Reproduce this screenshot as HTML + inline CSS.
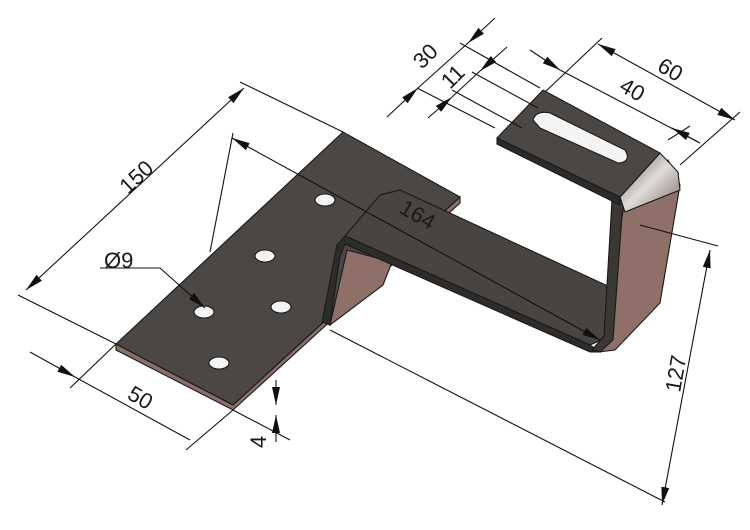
<!DOCTYPE html>
<html><head><meta charset="utf-8"><style>
html,body{margin:0;padding:0;background:#fff;}
svg{display:block;}
text{font-family:"Liberation Sans",sans-serif;font-size:22px;fill:#1a1a1a;}
</style></head><body>
<svg width="750" height="530" viewBox="0 0 750 530" xmlns="http://www.w3.org/2000/svg">
<defs>
<marker id="a" viewBox="0 0 18 8" refX="18" refY="4" markerWidth="18" markerHeight="8" orient="auto-start-reverse" markerUnits="userSpaceOnUse"><path d="M0,0 L18,4 L0,8 z" fill="#111"/></marker>
<linearGradient id="bend" x1="0" y1="0" x2="1" y2="1"><stop offset="0" stop-color="#5a5552"/><stop offset="0.5" stop-color="#e0ddda"/><stop offset="1" stop-color="#7a6a66"/></linearGradient>
</defs>
<g stroke="#1a1a1a" stroke-width="1.1">
<polygon points="116,344 116,350 233,410 460,203 460,197 233,405" fill="#8a6e68"/>
<polygon points="116,344 343,132 460,197 233,405" fill="#4a4745"/>
<g fill="#f4f4f4">
<ellipse cx="325" cy="200" rx="10" ry="6"/>
<ellipse cx="265" cy="256" rx="10" ry="6"/>
<ellipse cx="204" cy="312" rx="10" ry="6"/>
<ellipse cx="281" cy="307" rx="10" ry="6"/>
<ellipse cx="219" cy="363" rx="10" ry="6"/>
</g>
<polygon points="347,250 392,262 383,285 330,325" fill="#8f7068"/>
<polygon points="625,200 668,160 680,185 660,303 615,350 598,352" fill="#8f7068"/>
<polygon points="345,236 380,195 400,190 612,288 606,338 590,345" fill="#474442"/>
<polygon points="322,322 337,245 345,236 590,345 600,352 590,352 345,244 340,256 330,325" fill="#2e2c2b"/>
<polygon points="612,200 625,200 622,215 613,340 600,352 592,350 604,336" fill="#3a3735"/>
<polygon points="620,197 660,153 678,172 680,190 625,212" fill="url(#bend)"/>
<polygon points="497,138 497,144 620,205 620,197" fill="#2c2a29"/>
<polygon points="497,138 543,90 660,153 620,197" fill="#4a4745"/>
<path d="M533,120 Q536,110 550,113 L625,150 Q632,162 618,163 L540,128 Z" fill="#f4f4f4"/>
</g>
<g stroke="#111" stroke-width="1.1" fill="none">
<line x1="343" y1="132" x2="240" y2="82"/>
<line x1="116" y1="344" x2="18" y2="295"/>
<line x1="26" y1="290" x2="244" y2="88" marker-start="url(#a)" marker-end="url(#a)"/>
<line x1="210" y1="252" x2="233" y2="133"/>
<line x1="232" y1="138" x2="600" y2="340" marker-start="url(#a)" marker-end="url(#a)"/>
<polyline points="100,268 160,268 205,308" marker-end="url(#a)"/>
<line x1="116" y1="344" x2="70" y2="388"/>
<line x1="233" y1="410" x2="186" y2="450"/>
<line x1="30" y1="352" x2="75" y2="377" marker-end="url(#a)"/>
<line x1="75" y1="377" x2="190" y2="440"/>
<line x1="233" y1="410" x2="290" y2="440"/>
<line x1="276" y1="380" x2="276" y2="405" marker-end="url(#a)"/>
<line x1="276" y1="442" x2="276" y2="415" marker-end="url(#a)"/>
<line x1="640" y1="225" x2="718" y2="246"/>
<line x1="330" y1="330" x2="665" y2="502"/>
<line x1="710" y1="250" x2="662" y2="505" marker-start="url(#a)" marker-end="url(#a)"/>
<line x1="545" y1="92" x2="602" y2="38"/>
<line x1="680" y1="165" x2="740" y2="112"/>
<line x1="598" y1="44" x2="735" y2="120" marker-start="url(#a)" marker-end="url(#a)"/>
<line x1="530" y1="50" x2="560" y2="70" marker-end="url(#a)"/>
<line x1="560" y1="70" x2="700" y2="143"/>
<line x1="700" y1="143" x2="672" y2="128" marker-end="url(#a)"/>
<line x1="668" y1="140" x2="690" y2="126"/>
<!-- 30 -->
<line x1="417" y1="88" x2="495" y2="128"/>
<line x1="460" y1="43" x2="540" y2="88"/>
<line x1="387" y1="117" x2="418" y2="88" marker-end="url(#a)"/>
<line x1="418" y1="88" x2="468" y2="43"/>
<line x1="495" y1="18" x2="468" y2="43" marker-end="url(#a)"/>
<!-- 11 -->
<line x1="452" y1="90" x2="522" y2="128"/>
<line x1="472" y1="72" x2="538" y2="108"/>
<line x1="428" y1="118" x2="452" y2="97" marker-end="url(#a)"/>
<line x1="452" y1="97" x2="480" y2="71"/>
<line x1="507" y1="47" x2="480" y2="71" marker-end="url(#a)"/>
</g>
<text transform="translate(128,195) rotate(-43)">150</text>
<text transform="translate(398,212) rotate(30)">164</text>
<text x="104" y="268">Ø9</text>
<text transform="translate(126,398) rotate(30)">50</text>
<text transform="translate(266,448) rotate(-90)">4</text>
<text transform="translate(680,393) rotate(-80)">127</text>
<text transform="translate(656,70) rotate(30)">60</text>
<text transform="translate(618,90) rotate(30)">40</text>
<text transform="translate(422,70) rotate(-45)">30</text>
<text transform="translate(450,90) rotate(-45)">11</text>
</svg>
</body></html>
